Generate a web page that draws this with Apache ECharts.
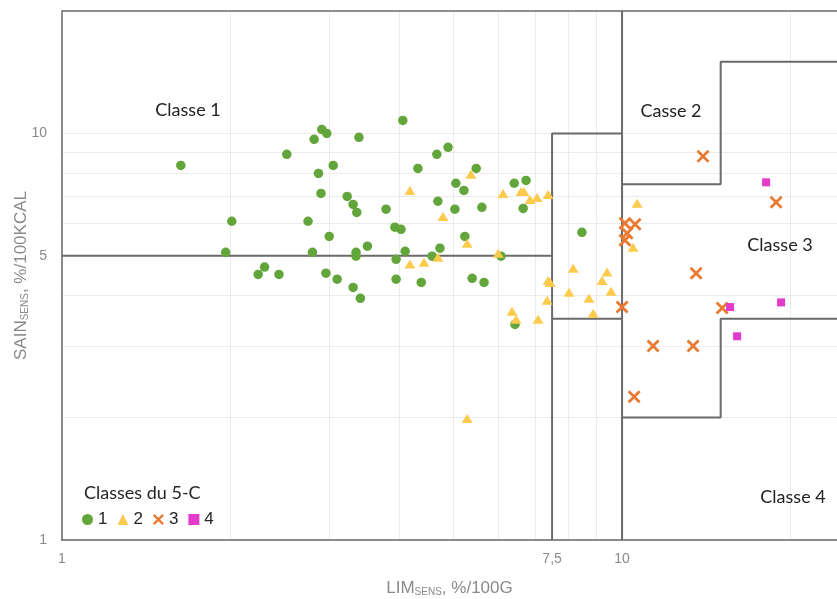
<!DOCTYPE html>
<html><head><meta charset="utf-8">
<script src="https://cdn.jsdelivr.net/npm/echarts@6/dist/echarts.min.js"></script>
<style>html,body{margin:0;padding:0;background:#fff}#c{width:837px;height:599px}</style>
</head><body><div id="c"></div>
<script>
// Classe 1 (green circles): [LIM_SENS, SAIN_SENS]
const class1 = [
  [1.63,8.34],[4.06,10.76],[2.91,10.23],[2.97,10.0],[2.82,9.67],[3.39,9.78],[2.52,8.88],
  [3.05,8.34],[2.87,7.97],[2.90,7.12],[3.23,7.00],[3.31,6.69],[3.36,6.39],[3.79,6.51],
  [2.75,6.08],[2.01,6.08],[3.93,5.88],[4.03,5.81],[3.00,5.58],[3.51,5.28],[1.96,5.10],
  [2.80,5.10],[3.35,5.10],[3.35,4.99],[4.10,5.13],[3.95,4.90],[2.30,4.69],[2.24,4.50],
  [2.44,4.50],[2.96,4.53],[3.10,4.38],[3.95,4.38],[3.31,4.18],[3.41,3.93],[4.32,8.20],
  [4.38,4.30],[4.67,8.88],[4.89,9.24],[5.49,8.20],[5.05,7.54],[5.22,7.24],[4.69,6.81],
  [5.03,6.51],[5.62,6.58],[5.24,5.58],[4.73,5.22],[4.58,4.99],[6.08,4.99],[5.40,4.40],
  [5.67,4.30],[6.42,7.54],[6.74,7.66],[6.66,6.54],[6.44,3.39],[8.48,5.71]
];
// Classe 2 (yellow triangles)
const class2 = [
  [4.18,7.24],[5.37,7.93],[4.79,6.25],[5.29,5.37],[4.69,4.96],[4.18,4.77],[4.43,4.82],
  [6.01,5.07],[6.13,7.12],[6.60,7.20],[6.68,7.20],[6.85,6.88],[7.05,6.96],[7.38,7.08],
  [7.38,4.35],[7.44,4.30],[7.35,3.89],[6.36,3.65],[6.47,3.49],[7.08,3.49],[8.18,4.66],
  [9.40,4.56],[9.21,4.35],[9.56,4.09],[8.04,4.07],[8.73,3.93],[8.88,3.61],[10.64,6.73],
  [10.46,5.25],[5.29,1.99]
];
// Classe 3 (orange crosses)
const class3 = [
  [13.95,8.78],[18.84,6.77],[10.55,5.98],[10.12,6.01],[10.21,5.68],[10.12,5.46],
  [13.56,4.53],[15.09,3.72],[10.0,3.74],[11.36,3.00],[13.39,3.00],[10.51,2.25]
];
// Classe 4 (magenta squares)
const class4 = [[18.08,7.58],[15.59,3.74],[19.23,3.84],[16.05,3.17]];

// Boundary polylines of the classes
const boundaries = [
  [[1,5],[7.5,5],[7.5,10],[10,10],[10,20]],
  [[7.5,1],[7.5,5]],
  [[7.5,3.5],[10,3.5]],
  [[10,1],[10,10]],
  [[10,7.5],[15,7.5],[15,15],[24.2,15]],
  [[10,2],[15,2],[15,3.5],[24.2,3.5]]
];

const xTickLabels = [1, 7.5, 10];
const yTickLabels = [1, 5, 10];
const xGridValues = [2,3,4,5,6,7,8,9,20];
const yGridValues = [2,3,4,6,7,8,9,10];
const xRange = [1, 24.2];
const yRange = [1, 20];

const zoneLabels = [
  {text:'Classe 1', x:188, y:110},
  {text:'Casse 2', x:671, y:111},
  {text:'Classe 3', x:780, y:245},
  {text:'Classe 4', x:793, y:497}
];

const green='#62a53a', yellow='#fccb4e', orange='#ea7a32', magenta='#e43bcc';
const crossPath='path://M0,1.5L1.5,0L5,3.5L8.5,0L10,1.5L6.5,5L10,8.5L8.5,10L5,6.5L1.5,10L0,8.5L3.5,5Z';
const fmtNum = v => String(v).replace('.', ',');

const chart = echarts.init(document.getElementById('c'));
const series = [];
series.push({
  type:'scatter', data:[], silent:true, z:0, zlevel:0,
  markLine:{
    silent:true, symbol:['none','none'], animation:false, z:0,
    label:{show:false},
    lineStyle:{color:'#ececec', width:1, type:'solid'},
    data: xGridValues.map(v=>({xAxis:v})).concat(yGridValues.map(v=>({yAxis:v})))
  }
});
series.push({
  type:'scatter', data:[], silent:true, z:1,
  markLine:{
    silent:true, symbol:['none','none'], animation:false, z:1,
    label:{show:false},
    lineStyle:{color:'#666', width:1.5, type:'solid'},
    data:[{yAxis:yRange[1]}]
  }
});
boundaries.forEach(b=>series.push({
  type:'line', data:b, symbol:'none', silent:true, z:2,
  lineStyle:{color:'#6a6a6a', width:2}
}));
series.push({name:'1', type:'scatter', data:class1, symbol:'circle', symbolSize:9.5, z:3, itemStyle:{color:green, opacity:1}});
series.push({name:'2', type:'scatter', data:class2, symbol:'triangle', symbolSize:[11,9], z:3, itemStyle:{color:yellow, opacity:1}});
series.push({name:'3', type:'scatter', data:class3, symbol:crossPath, symbolSize:13, z:4, itemStyle:{color:orange, opacity:1}});
series.push({name:'4', type:'scatter', data:class4, symbol:'rect', symbolSize:8, z:4, itemStyle:{color:magenta, opacity:1}});

chart.setOption({
  animation:false,
  backgroundColor:'#fff',
  grid:{left:62, right:0, top:11, bottom:59, containLabel:false, outerBoundsMode:'none'},
  xAxis:{
    type:'log', logBase:10, min:xRange[0], max:xRange[1],
    axisLine:{show:true, lineStyle:{color:'#666', width:1.5}},
    axisTick:{show:false}, splitLine:{show:false}, minorSplitLine:{show:false},
    axisLabel:{customValues:xTickLabels, formatter:v=>fmtNum(v), color:'#8a8a8a', fontSize:14, margin:12, fontFamily:'Liberation Sans'},
    name:'{a|LIM}{s|SENS}{a|, %/100G}', nameLocation:'middle', nameGap:40,
    nameTextStyle:{rich:{a:{fontSize:17, color:'#8a8a8a', fontFamily:'Liberation Sans'}, s:{fontSize:10, color:'#8a8a8a', fontFamily:'Liberation Sans', verticalAlign:'bottom', padding:[7,0,0,0]}}}
  },
  yAxis:{
    type:'log', logBase:10, min:yRange[0], max:yRange[1],
    axisLine:{show:true, lineStyle:{color:'#666', width:1.5}},
    axisTick:{show:false}, splitLine:{show:false}, minorSplitLine:{show:false},
    axisLabel:{customValues:yTickLabels, formatter:v=>fmtNum(v), color:'#8a8a8a', fontSize:14, margin:15, fontFamily:'Liberation Sans'},
    name:'{a|SAIN}{s|SENS}{a|, %/100KCAL}', nameLocation:'middle', nameGap:32, nameMoveOverlap:false,
    nameTextStyle:{rich:{a:{fontSize:17, color:'#8a8a8a', fontFamily:'Liberation Sans'}, s:{fontSize:10, color:'#8a8a8a', fontFamily:'Liberation Sans', verticalAlign:'bottom', padding:[7,0,0,0]}}}
  },
  title:{text:'Classes du 5-C', left:79, top:479, textStyle:{fontSize:18, fontWeight:'normal', color:'#262626', fontFamily:'Lato'}},
  legend:{
    data:['1','2','3','4'], left:80, top:509, orient:'horizontal',
    itemWidth:11, itemHeight:11, itemGap:10, padding:[2,4,2,2], backgroundColor:'#fff',
    textStyle:{fontSize:17, color:'#262626', fontFamily:'Liberation Sans', padding:[0,0,0,0]}
  },
  graphic: zoneLabels.map(l=>({
    type:'text', x:l.x, y:l.y, z:10,
    style:{text:l.text, fontSize:18, fontFamily:'Lato', fill:'#222', align:'center', verticalAlign:'middle'}
  })),
  series
});
</script>
</body></html>
